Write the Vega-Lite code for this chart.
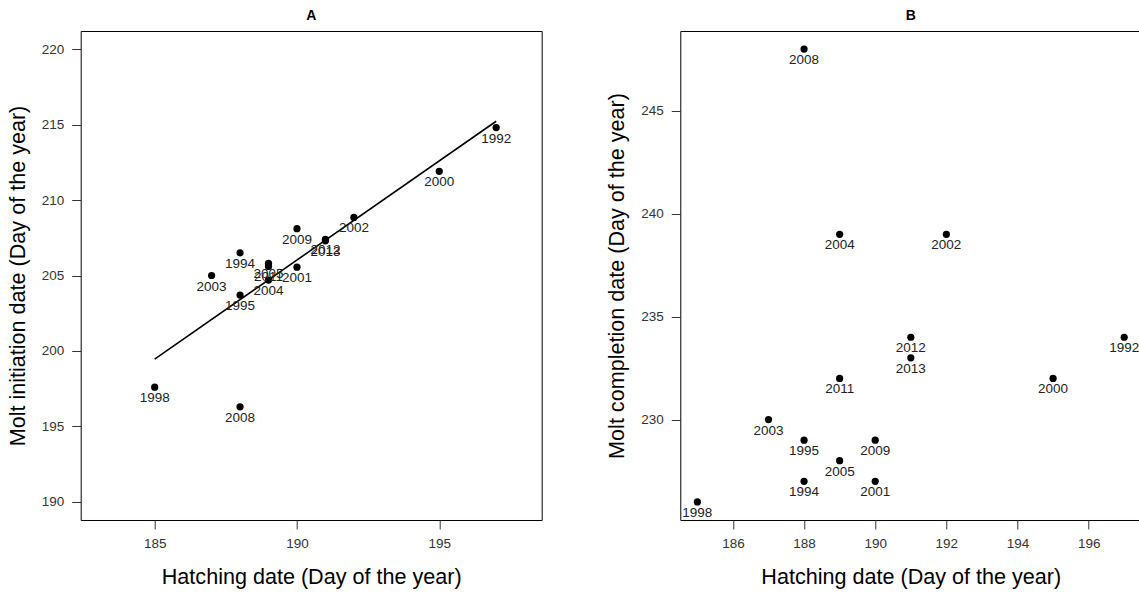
{
  "$schema": "https://vega.github.io/schema/vega-lite/v6.json",
  "background": "white",
  "padding": {"left": 5.7, "top": 8, "right": 0, "bottom": 0},
  "spacing": 62.6,
  "config": {
    "font": "Liberation Sans",
    "view": {"stroke": "black", "strokeWidth": 1},
    "axis": {
      "grid": false,
      "domain": false,
      "tickColor": "#333333",
      "tickSize": 9,
      "labelColor": "#333333",
      "labelFont": "Liberation Sans",
      "labelFontSize": 13.5,
      "labelPadding": 8,
      "titleFont": "Liberation Sans",
      "titleFontSize": 21.6,
      "titleFontWeight": "normal",
      "titleColor": "black",
      "titlePadding": 12
    },
    "axisX": {"titlePadding": 16},
    "axisY": {"labelAngle": 0},
    "title": {"font": "Liberation Sans", "fontSize": 14, "fontWeight": "bold", "offset": 8, "color": "black"}
  },
  "datasets": {
    "years": [
      {"year": "1992", "hatch": 197, "initiation": 214.8, "completion": 234},
      {"year": "1994", "hatch": 188, "initiation": 206.5, "completion": 227},
      {"year": "1995", "hatch": 188, "initiation": 203.7, "completion": 229},
      {"year": "1998", "hatch": 185, "initiation": 197.6, "completion": 226},
      {"year": "2000", "hatch": 195, "initiation": 211.9, "completion": 232},
      {"year": "2001", "hatch": 190, "initiation": 205.55, "completion": 227},
      {"year": "2002", "hatch": 192, "initiation": 208.85, "completion": 239},
      {"year": "2003", "hatch": 187, "initiation": 205.0, "completion": 230},
      {"year": "2004", "hatch": 189, "initiation": 204.7, "completion": 239},
      {"year": "2005", "hatch": 189, "initiation": 205.8, "completion": 228},
      {"year": "2008", "hatch": 188, "initiation": 196.3, "completion": 248},
      {"year": "2009", "hatch": 190, "initiation": 208.1, "completion": 229},
      {"year": "2011", "hatch": 189, "initiation": 205.6, "completion": 232},
      {"year": "2012", "hatch": 191, "initiation": 207.4, "completion": 234},
      {"year": "2013", "hatch": 191, "initiation": 207.3, "completion": 233}
    ]
  },
  "hconcat": [
    {
      "title": "A",
      "width": 461,
      "height": 489,
      "data": {"name": "years"},
      "encoding": {
        "x": {
          "field": "hatch",
          "type": "quantitative",
          "scale": {"domain": [182.4, 198.6], "nice": false, "zero": false},
          "axis": {"values": [185, 190, 195], "title": "Hatching date (Day of the year)"}
        },
        "y": {
          "field": "initiation",
          "type": "quantitative",
          "scale": {"domain": [188.8, 221.2], "nice": false, "zero": false},
          "axis": {"values": [190, 195, 200, 205, 210, 215, 220], "title": "Molt initiation date (Day of the year)"}
        }
      },
      "layer": [
        {
          "transform": [{"regression": "initiation", "on": "hatch"}],
          "mark": {"type": "line", "color": "black", "strokeWidth": 1.6}
        },
        {
          "mark": {"type": "circle", "color": "black", "opacity": 1, "size": 52}
        },
        {
          "mark": {"type": "text", "dy": 11, "fontSize": 13.5, "color": "#222222", "baseline": "middle"},
          "encoding": {"text": {"field": "year"}}
        }
      ]
    },
    {
      "title": "B",
      "width": 461,
      "height": 489,
      "data": {"name": "years"},
      "encoding": {
        "x": {
          "field": "hatch",
          "type": "quantitative",
          "scale": {"domain": [184.52, 197.48], "nice": false, "zero": false},
          "axis": {"values": [186, 188, 190, 192, 194, 196], "title": "Hatching date (Day of the year)"}
        },
        "y": {
          "field": "completion",
          "type": "quantitative",
          "scale": {"domain": [225.12, 248.88], "nice": false, "zero": false},
          "axis": {"values": [230, 235, 240, 245], "title": "Molt completion date (Day of the year)"}
        }
      },
      "layer": [
        {
          "mark": {"type": "circle", "color": "black", "opacity": 1, "size": 52}
        },
        {
          "mark": {"type": "text", "dy": 11, "fontSize": 13.5, "color": "#222222", "baseline": "middle"},
          "encoding": {"text": {"field": "year"}}
        }
      ]
    }
  ]
}
